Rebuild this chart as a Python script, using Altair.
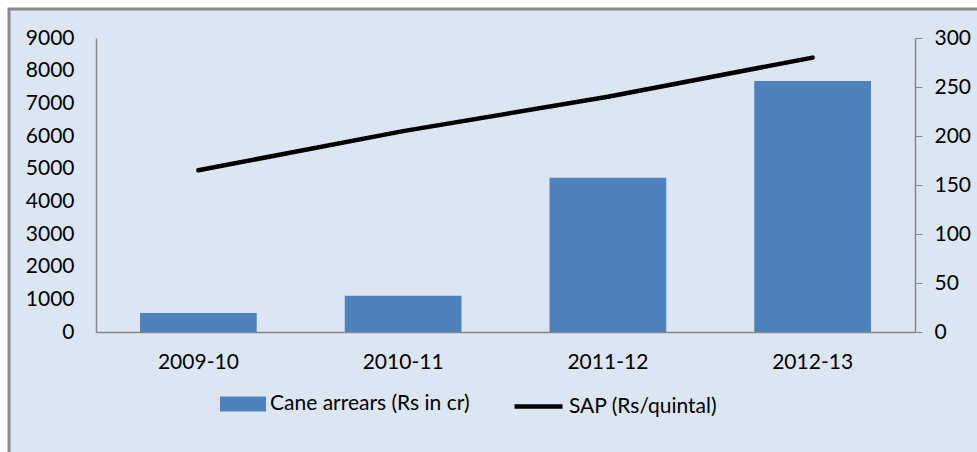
import altair as alt
import pandas as pd

years = ["2009-10", "2010-11", "2011-12", "2012-13"]
cane_arrears = [580, 1110, 4720, 7680]
sap = [165, 205, 240, 280]
bar_name = "Cane arrears (Rs in cr)"
line_name = "SAP (Rs/quintal)"

df = pd.DataFrame({"year": years, "arrears": cane_arrears, "sap": sap,
                   "bar_s": [bar_name] * len(years), "line_s": [line_name] * len(years)})

FONT = "Lato"
FS = 21
GRAY = "#868686"

x_enc = alt.X("year:N", sort=years, title=None,
              scale=alt.Scale(paddingInner=0.43, paddingOuter=0.215),
              axis=alt.Axis(labelAngle=0, labelFontSize=FS, labelPadding=19, ticks=False,
                            domainColor=GRAY, domainWidth=1.5, labelColor="black",
                            labelFont=FONT, zindex=1))

frame = alt.Chart(pd.DataFrame({"a": [0]})).mark_rect(
    fill="#dce6f2", stroke="#8a8a8a", strokeWidth=3
).encode(x=alt.value(-87), x2=alt.value(900), y=alt.value(-29), y2=alt.value(440))

bars = alt.Chart(df).mark_bar(color="#4f81bd").encode(
    x=x_enc,
    y=alt.Y("arrears:Q", title=None,
            scale=alt.Scale(domain=[0, 9000], nice=False),
            axis=alt.Axis(orient="left", values=list(range(0, 9001, 1000)), ticks=False,
                          format="d", labelPadding=22, labelFontSize=FS, labelFont=FONT,
                          labelColor="black", domainColor=GRAY, domainWidth=1.5, grid=False,
                          zindex=1)),
    fill=alt.Fill("bar_s:N", scale=alt.Scale(domain=[bar_name], range=["#4f81bd"]),
                  legend=alt.Legend(orient="none", legendX=124, legendY=343, title=None,
                                    symbolType="M-1,-0.326L1,-0.326L1,0.326L-1,0.326Z",
                                    symbolSize=2116, symbolStrokeWidth=0, symbolOpacity=1,
                                    labelFontSize=FS, labelFont=FONT, labelColor="black",
                                    labelOffset=4, labelLimit=400)),
)

line = alt.Chart(df).mark_line(strokeWidth=4.5, strokeCap="round").encode(
    x=alt.X("year:N", sort=years),
    y=alt.Y("sap:Q", title=None,
            scale=alt.Scale(domain=[0, 300], nice=False),
            axis=alt.Axis(orient="right", values=list(range(0, 301, 50)), tickSize=7,
                          tickColor=GRAY, labelPadding=12, labelFontSize=FS, labelFont=FONT,
                          labelColor="black", domainColor=GRAY, domainWidth=1.5, grid=False,
                          zindex=1)),
    stroke=alt.Stroke("line_s:N", scale=alt.Scale(domain=[line_name], range=["black"]),
                      legend=alt.Legend(orient="none", legendX=416, legendY=342, title=None,
                                        symbolType="stroke", symbolSize=2304,
                                        symbolStrokeWidth=4.5,
                                        labelFontSize=FS, labelFont=FONT, labelColor="black",
                                        labelOffset=4, labelLimit=400)),
)

chart = alt.layer(frame, bars, line).resolve_scale(y="independent").properties(
    width=819, height=294,
    autosize=alt.AutoSizeParams(type="none"),
    padding={"left": 96, "top": 38, "right": 62, "bottom": 120},
    background="white",
).configure_view(stroke=None)

chart.save("out.html", embed_options={"renderer": "svg", "actions": False})
